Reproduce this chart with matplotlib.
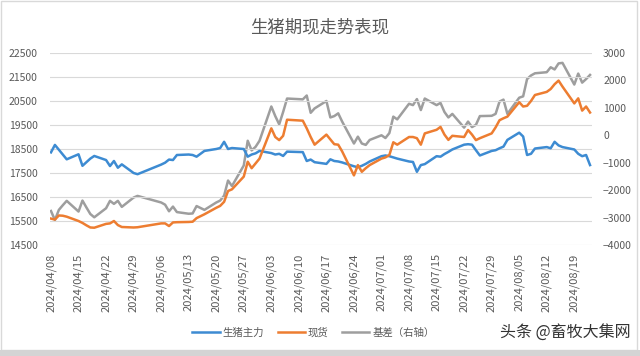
import numpy as np
import pandas as pd
import matplotlib
matplotlib.use("Agg")
import matplotlib.pyplot as plt
import matplotlib.dates as mdates
from matplotlib.patches import Rectangle

plt.rcParams['font.family'] = ['Noto Sans CJK SC', 'DejaVu Sans']

# trading days, 2024/04/08 - 2024/08/23 (Labor Day and Dragon Boat holidays removed)
HOLIDAYS = ['2024-05-01', '2024-05-02', '2024-05-03', '2024-06-10']
dates = pd.bdate_range('2024-04-08', '2024-08-23')
dates = dates[~dates.isin(pd.to_datetime(HOLIDAYS))]

# 生猪主力 (left axis)
futures = [18360, 18670, 18470, 18270, 18070,
           18280, 17800, 17950, 18100, 18210,
           18040, 17790, 18000, 17720, 17860,
           17500, 17450,
           17850, 17930, 18060, 18040, 18250,
           18270, 18250, 18180, 18300, 18420,
           18500, 18540, 18800, 18500, 18540,
           18500, 18180, 18270, 18320, 18420,
           18330, 18270, 18300, 18210, 18390,
           18370, 18000, 18060, 17950,
           17880, 18070, 18000, 17980, 17940,
           17780, 17740, 17800, 17880, 17980,
           18200, 18230, 18200, 18150, 18100,
           17980, 17960, 17550, 17830, 17870,
           18200, 18180, 18290, 18380, 18480,
           18680, 18700, 18680, 18450, 18230,
           18420, 18450, 18530, 18600, 18880,
           19180, 19020, 18250, 18300, 18520,
           18580, 18530, 18800, 18650, 18580,
           18480, 18300, 18200, 18250, 17830]

# 现货 (left axis)
spot = [15600, 15560, 15730, 15720, 15680,
        15500, 15420, 15320, 15230, 15220,
        15380, 15400, 15500, 15330, 15250,
        15230, 15240,
        15400, 15400, 15290, 15440, 15450,
        15460, 15470, 15620, 15700, 15780,
        16050, 16130, 16300, 16750, 16820,
        17350, 17970, 17700, 17900, 18100,
        19360, 19000, 18870, 19050, 19720,
        19680, 19360, 19000, 18680,
        19100, 18900, 18700, 18680, 18400,
        17400, 17830, 17550, 17700, 17830,
        18100, 18150, 18250, 18780, 18680,
        19000, 19000, 18950, 18680, 19150,
        19300, 19420, 19100, 18880, 19050,
        19000, 19290, 19100, 18870, 18950,
        19150, 19400, 19700, 19780, 19850,
        20450, 20270, 20300, 20500, 20750,
        20880, 21000, 21200, 21350, 21100,
        20400, 20610, 20100, 20270, 20020]

# 基差 (right axis)
basis = [-2760, -3090, -2720, -2550, -2390,
         -2780, -2380, -2630, -2870, -2990,
         -2660, -2390, -2500, -2390, -2610,
         -2270, -2210,
         -2450, -2530, -2770, -2600, -2800,
         -2860, -2850, -2580, -2650, -2720,
         -2450, -2380, -2200, -1650, -1850,
         -1100, -200, -550, -420, -200,
         1050, 700, 400, 850, 1340,
         1310, 1450, 820, 980,
         1250, 650, 700, 800, 500,
         -300, -50, -300, -350, -170,
         0, -100, 80, 680, 580,
         1150, 1100, 1320, 920, 1340,
         1100, 1180, 850, 650, 780,
         280, 500, 300, 380, 700,
         710, 780, 1230, 1300, 780,
         1370, 1420, 2050, 2180, 2260,
         2300, 2480, 2400, 2620, 2640,
         1850, 2250, 1920, 2050, 2200]

BLUE = '#3D8BD2'
ORANGE = '#ED7D31'
GRAY = '#9E9E9E'
TXT = '#595959'

fig = plt.figure(figsize=(6.4, 3.56), dpi=100)
ax = fig.add_axes([50 / 640, 1 - 245 / 356, 542 / 640, 192 / 356])
ax2 = ax.twinx()

l1, = ax.plot(dates, futures, color=BLUE, lw=1.8, label='生猪主力', zorder=3)
l2, = ax.plot(dates, spot, color=ORANGE, lw=1.8, label='现货', zorder=3)
l3, = ax2.plot(dates, basis, color=GRAY, lw=1.8, label='基差（右轴）')

ax.set_ylim(14500, 22500)
ax.set_yticks(np.arange(14500, 22501, 1000))
ax2.set_ylim(-4000, 3000)
ax2.set_yticks(np.arange(-4000, 3001, 1000))
ax.set_xlim(pd.Timestamp('2024-04-07 18:00'), pd.Timestamp('2024-08-23 12:00'))
ax.xaxis.set_major_locator(mdates.WeekdayLocator(byweekday=mdates.MO))
ax.xaxis.set_major_formatter(mdates.DateFormatter('%Y/%m/%d'))

ax.grid(axis='y', color='#D9D9D9', lw=0.8)
ax.set_axisbelow(True)
ax2.set_zorder(ax.get_zorder() - 1)
ax.patch.set_visible(False)

for a in (ax, ax2):
    for s in a.spines.values():
        s.set_visible(False)
    a.tick_params(length=0, colors=TXT, labelsize=7.5)
ax.tick_params(axis='y', pad=9)
ax2.tick_params(axis='y', pad=8)
ax.tick_params(axis='x', pad=6, labelsize=8)
for lab in ax.get_xticklabels():
    lab.set_rotation(90)

fig.text(0.5, 0.924, '生猪期现走势表现', ha='center', va='center', fontsize=12.5, color=TXT)

fig.legend(handles=[l1, l2, l3], loc='center', bbox_to_anchor=(0.49, 0.066), ncol=3,
           frameon=False, fontsize=7.5, handlelength=2.6, columnspacing=1.3,
           handletextpad=0.3, labelcolor=TXT)

fig.text(0.985, 0.066, '头条 @畜牧大集网', ha='right', va='center', fontsize=11.5, color='#333333')

# chart border and bottom strip
fig.patches.append(Rectangle((0.002, 0.018), 0.993, 0.978, transform=fig.transFigure,
                             fill=False, edgecolor='#D9D9D9', lw=1))
fig.patches.append(Rectangle((0, 0), 1, 0.016, transform=fig.transFigure,
                             facecolor='#D4D4D4', edgecolor='none'))

fig.savefig('out.png', dpi=100)
